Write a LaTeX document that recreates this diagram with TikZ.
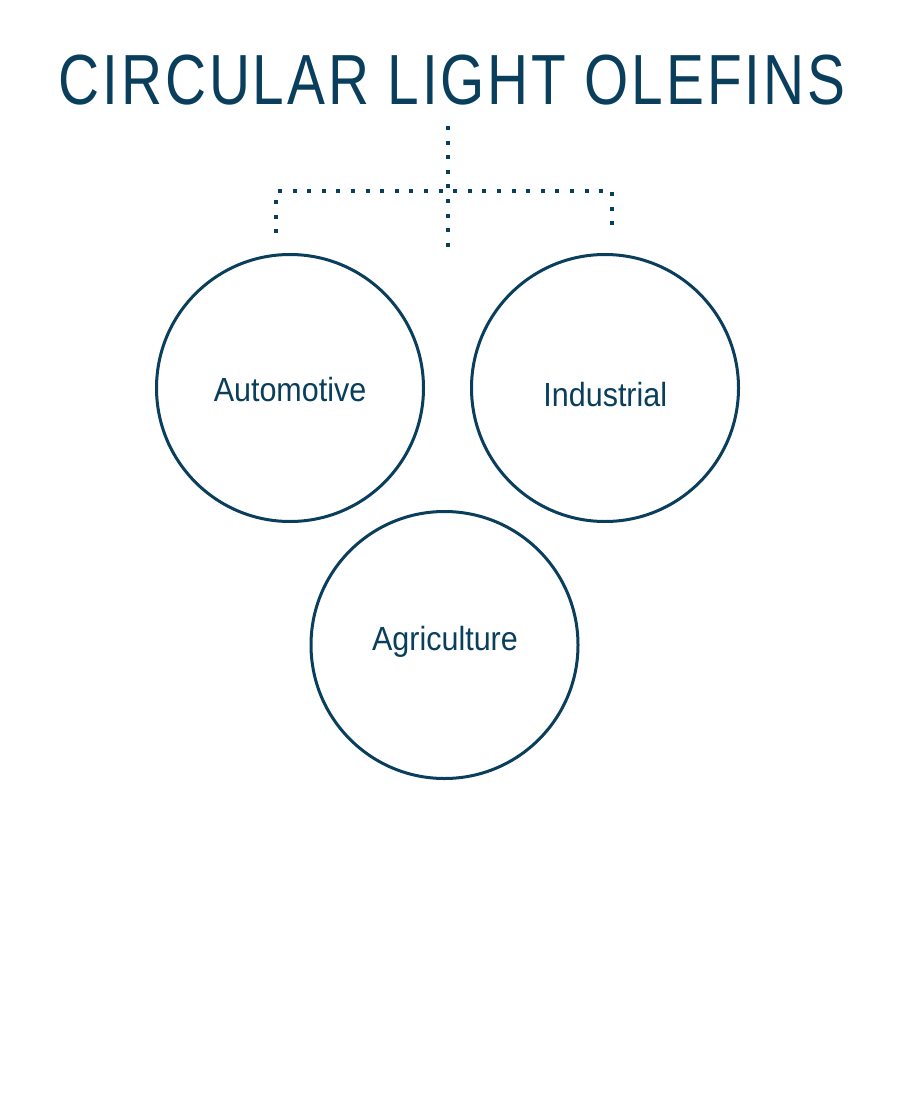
\documentclass[tikz,border=0pt]{standalone}
\usepackage{fontspec}
\usepackage{tikz}
\newfontfamily\titlefont[FakeStretch=0.8,LetterSpace=4]{Liberation Sans}
\newfontfamily\sectorfont[FakeStretch=0.91]{Liberation Sans}
\definecolor{olefin_blue}{RGB}{9,62,92}

\begin{document}
\begin{tikzpicture}[x=1pt,y=-1pt]
    \tikzstyle{heading}=[text=olefin_blue, anchor=base, inner sep=0pt, font=\titlefont\fontsize{71}{80}\selectfont]
    \tikzstyle{sector}=[text=olefin_blue, anchor=base, inner sep=0pt, font=\sectorfont\fontsize{33.5}{40}\selectfont]
    \tikzstyle{disc}=[draw=olefin_blue, circle, line width=3pt, minimum size=267pt, inner sep=0pt]
    \tikzstyle{dots}=[draw=olefin_blue, line width=4pt, dash pattern=on 4pt off 10.6pt, shorten <=-2pt, shorten >=-2pt]
    \useasboundingbox[fill=white] (0,0) rectangle (900,1116);
    \node[heading] (title) at (452,104) {CIRCULAR LIGHT OLEFINS};

    \node[disc] (auto) at (290,388) {};
    \node[disc] (indus) at (605,388) {};
    \node[disc] (agri) at (444.5,645) {};
    \node[sector] (l1) at (290,401)   {Automotive};
    \node[sector] (l2) at (605.3,406.7) {Industrial};
    \node[sector] (l3) at (445,650)   {Agriculture};

    \coordinate (top)   at (448.3,128);
    \coordinate (stem)  at (448.3,245);
    \coordinate (barl)  at (280,191.3);
    \coordinate (barr)  at (601,191.3);
    \coordinate (dropl) at (276.3,202);
    \coordinate (endl)  at (276.3,231);
    \coordinate (dropr) at (612.3,194);
    \coordinate (endr)  at (612.3,223);

    \path[dots]
     (top) edge (stem)
     (barl) edge (barr)
     (dropl) edge (endl)
     (dropr) edge (endr);
\end{tikzpicture}
\end{document}
